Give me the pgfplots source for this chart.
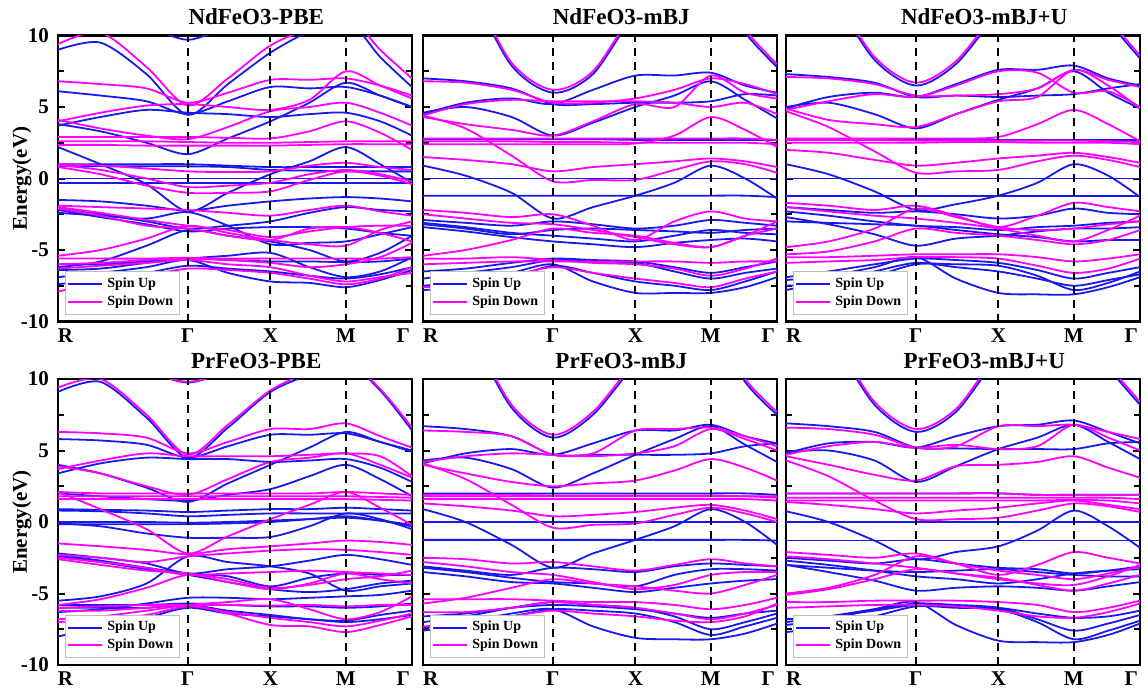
\documentclass[border=0pt]{standalone}
\usepackage{fontspec}
\setmainfont{Liberation Serif}
\usepackage{pgfplots}
\usepackage{pgfplotstable}
\pgfplotsset{compat=1.18}
\definecolor{upc}{RGB}{25,25,235}
\definecolor{dnc}{RGB}{255,0,255}

% ---------------- NdFeO3-PBE ----------------
\pgfplotstableread{
b   k0 k1 k2 k3 k4 k5 k6 k7 k8 k9
x   0 0.12 0.25 0.367 0.48 0.6 0.71 0.813 0.91 1
u1  9.0 9.5 7.3 4.45 6.6 8.8 10.3 11.2 8.5 6.4
u2  11 11 10.6 9.7 10.6 11 11 11 11 11
u3  6.1 5.8 5.4 4.5 5.4 6.4 6.3 6.4 5.8 5.0
u4  3.7 4.3 4.8 4.6 4.5 4.3 4.5 4.6 4.0 3.0
u5  3.8 3.3 2.5 1.7 2.8 4.0 5.3 6.7 5.8 5.0
u6  2.2 1.0 -0.4 -2.3 -1.0 0.3 1.2 2.2 1.0 -0.3
u7  1.0 1.0 1.0 1.0 0.9 0.8 0.8 0.8 0.8 0.8
u8  0.85 0.85 0.85 0.85 0.8 0.6 0.55 0.5 0.5 0.5
u9  0 0 0 0 0 0 0 0 0 0
u10 -0.3 -0.3 -0.3 -0.3 -0.3 -0.3 -0.3 -0.3 -0.3 -0.3
u11 -1.5 -1.6 -1.9 -2.25 -1.9 -1.6 -1.4 -1.3 -1.4 -1.6
u12 -2.1 -2.5 -3.0 -3.5 -3.3 -3.0 -2.4 -2.0 -2.2 -2.3
u13 -2.2 -2.7 -3.2 -3.7 -3.5 -3.4 -3.4 -3.5 -3.8 -4.0
u14 -2.4 -2.6 -2.8 -2.35 -3.3 -4.6 -4.5 -4.4 -3.9 -3.4
u15 -6.2 -5.8 -4.7 -3.6 -4.0 -4.4 -5.0 -5.8 -5.2 -4.0
u16 -6.0 -6.0 -5.8 -5.6 -5.7 -5.8 -5.8 -5.85 -5.8 -5.6
u17 -6.9 -6.6 -6.2 -5.7 -6.6 -7.2 -7.3 -7.6 -7.1 -6.4
u18 -7.4 -7.0 -6.6 -6.1 -6.3 -6.5 -6.8 -7.0 -6.7 -6.2
u19 -6.4 -6.3 -5.9 -5.6 -5.4 -5.2 -6.2 -6.9 -6.5 -5.5
d1  9.4 10.2 7.8 5.1 7.0 9.3 10.5 11.5 9.0 7.0
d2  6.8 6.6 6.3 5.3 6.0 6.9 6.9 7.0 6.5 5.8
d3  4.0 4.6 5.1 5.2 5.0 4.8 5.5 7.5 6.5 5.6
d4  4.1 3.5 3.0 2.75 3.6 4.7 5.0 5.3 4.6 3.7
d5  2.9 2.9 2.9 2.9 2.85 2.8 3.3 4.0 3.2 2.0
d6  2.6 2.6 2.6 2.55 2.5 2.5 2.55 2.6 2.6 2.6
d7  2.35 2.35 2.3 2.3 2.3 2.3 2.35 2.4 2.4 2.4
d8  1.0 0.9 0.7 0.5 0.45 0.5 0.9 1.1 0.8 0.6
d9  0.8 0.3 -0.5 -1.0 -1.0 -0.9 -0.1 0.5 0.2 -0.4
d10 -1.9 -2.0 -2.1 -2.2 -2.4 -2.6 -2.2 -1.9 -2.3 -2.6
d11 -2.0 -2.4 -2.9 -3.3 -3.6 -4.1 -3.7 -3.4 -3.3 -3.3
d12 -5.4 -5.0 -4.2 -3.3 -3.8 -4.3 -4.6 -4.7 -3.6 -3.0
d13 -2.1 -2.6 -3.3 -3.5 -4.0 -4.3 -3.5 -3.4 -3.8 -4.4
d14 -5.6 -5.6 -5.6 -5.55 -5.6 -5.6 -5.6 -5.6 -5.6 -5.5
d15 -6.0 -5.9 -5.7 -5.6 -5.7 -5.9 -6.2 -6.0 -5.5 -4.5
d16 -6.3 -6.1 -5.9 -5.7 -6.0 -6.2 -6.8 -7.2 -6.9 -6.6
d17 -7.9 -7.3 -6.8 -6.3 -6.4 -6.6 -7.0 -7.4 -7.0 -6.2
d18 0.95 0.6 0.0 -0.6 -0.5 -0.3 0.3 0.6 0.3 -0.2
}\rawNdPBE
\pgfplotstabletranspose[colnames from=b]{\NdPBE}{\rawNdPBE}

% ---------------- NdFeO3-mBJ ----------------
\pgfplotstableread{
b   k0 k1 k2 k3 k4 k5 k6 k7 k8 k9
x   0 0.12 0.25 0.367 0.48 0.6 0.71 0.813 0.91 1
u1  15 13.5 7.9 6.0 7.3 11.5 13 14 10.2 7.8
u2  7.0 6.8 6.3 5.2 5.2 5.3 5.3 5.4 5.9 5.8
u3  4.5 5.3 5.6 5.2 6.2 7.2 7.2 7.4 6.5 6.0
u4  4.6 5.0 4.3 3.0 3.9 5.0 5.8 6.8 5.5 4.2
u5  2.75 2.75 2.75 2.75 2.75 2.7 2.7 2.7 2.7 2.7
u6  0.9 0.2 -1.0 -2.8 -2.0 -1.2 -0.3 0.9 0.0 -1.4
u7  0 0 0 0 0 0 0 0 0 0
u8  -1.2 -1.2 -1.2 -1.2 -1.2 -1.2 -1.2 -1.2 -1.2 -1.3
u9  -2.9 -3.1 -3.3 -3.0 -3.2 -3.5 -3.3 -2.9 -3.1 -3.3
u10 -3.1 -3.4 -3.8 -4.0 -4.2 -4.4 -4.0 -3.6 -3.8 -3.9
u11 -3.4 -3.7 -4.1 -4.4 -4.6 -4.8 -4.5 -4.3 -4.2 -4.4
u12 -3.2 -3.5 -3.9 -3.6 -3.5 -3.6 -3.7 -3.8 -3.6 -3.5
u13 -7.5 -7.2 -6.6 -6.0 -7.2 -8.0 -8.0 -8.0 -7.6 -6.9
u14 -7.0 -6.6 -6.2 -5.7 -5.8 -5.9 -6.5 -7.0 -6.6 -6.3
u15 -6.5 -6.3 -5.9 -5.6 -5.7 -5.8 -6.2 -6.6 -6.2 -5.8
u16 -7.8 -7.6 -7.0 -6.1 -6.6 -7.2 -7.5 -7.8 -7.2 -6.5
d1  15 13.7 8.1 6.2 7.5 11.7 13 14 10.4 8.0
d2  6.8 6.7 6.2 5.3 5.3 5.6 6.2 7.0 6.6 5.9
d3  4.4 5.2 5.5 5.4 5.4 5.4 5.3 5.0 5.3 4.5
d4  4.3 3.8 3.4 3.0 4.0 5.2 5.0 7.2 6.0 5.6
d5  1.5 1.3 1.0 0.5 0.8 1.0 1.2 1.4 1.2 0.8
d6  4.4 3.5 1.6 -0.2 -0.1 -0.1 0.6 1.2 1.0 0.4
d7  2.8 2.8 2.8 2.8 2.8 2.8 2.8 2.8 2.8 2.7
d8  2.6 2.6 2.6 2.55 2.55 2.5 2.5 2.5 2.5 2.4
d9  2.4 2.4 2.4 2.4 2.4 2.45 3.0 4.3 3.4 2.2
d10 -2.2 -2.4 -2.7 -2.5 -3.3 -4.3 -3.0 -2.3 -2.8 -3.0
d11 -2.5 -2.8 -3.1 -3.2 -3.6 -4.1 -4.6 -4.8 -4.0 -3.0
d12 -5.4 -5.0 -4.3 -3.5 -3.8 -4.0 -4.5 -4.8 -4.0 -3.5
d13 -6.0 -5.9 -5.8 -5.8 -5.8 -5.8 -5.8 -5.9 -5.8 -5.8
d14 -5.6 -5.6 -5.5 -5.7 -5.9 -6.0 -6.3 -6.8 -6.3 -5.6
d15 -7.6 -7.4 -6.8 -6.2 -6.6 -7.0 -7.3 -7.6 -7.0 -6.5
}\rawNdmBJ
\pgfplotstabletranspose[colnames from=b]{\NdmBJ}{\rawNdmBJ}

% ---------------- NdFeO3-mBJ+U ----------------
\pgfplotstableread{
b   k0 k1 k2 k3 k4 k5 k6 k7 k8 k9
x   0 0.12 0.25 0.367 0.48 0.6 0.71 0.813 0.91 1
u1  15 13 8.3 6.5 8.0 11.5 13 14 11.0 8.4
u2  7.3 7.1 6.7 5.7 5.8 5.7 5.8 5.9 6.3 6.6
u3  4.9 5.7 6.0 5.7 6.6 7.6 7.6 7.9 7.0 6.5
u4  5.0 5.3 4.5 3.5 4.5 5.5 6.3 7.5 6.0 4.9
u5  2.7 2.7 2.7 2.7 2.7 2.7 2.7 2.7 2.7 2.7
u6  1.0 0.3 -0.9 -2.2 -1.8 -1.2 -0.3 1.0 0.2 -1.3
u7  0 0 0 0 0 0 0 0 0 0
u8  -1.2 -1.2 -1.2 -1.2 -1.2 -1.2 -1.2 -1.2 -1.2 -1.2
u9  -2.0 -2.2 -2.4 -2.3 -2.5 -2.8 -2.6 -2.1 -2.4 -2.5
u10 -2.3 -2.6 -3.0 -3.3 -3.4 -3.6 -3.4 -3.3 -3.1 -3.0
u11 -2.7 -3.2 -3.9 -4.7 -4.2 -4.0 -3.7 -3.5 -3.5 -3.4
u12 -3.0 -3.1 -3.2 -3.3 -3.6 -3.9 -4.1 -4.4 -4.3 -4.3
u13 -7.1 -6.8 -6.2 -5.5 -7.0 -8.0 -8.1 -8.1 -7.6 -6.9
u14 -6.9 -6.5 -6.0 -5.6 -5.7 -5.9 -6.4 -7.0 -6.6 -6.2
u15 -7.8 -7.2 -6.5 -5.9 -6.2 -6.5 -7.0 -7.5 -7.1 -6.7
u16 -7.5 -7.3 -6.8 -6.0 -6.0 -6.1 -6.8 -7.8 -7.3 -6.5
d1  15 13.2 8.5 6.7 8.2 11.7 13 14 11.2 8.6
d2  7.1 7.0 6.6 5.8 5.8 5.9 6.3 7.6 6.9 6.4
d3  4.8 5.4 5.9 5.7 6.5 7.5 7.4 6.0 6.1 5.0
d4  4.9 4.1 3.8 3.6 4.5 5.4 5.7 7.6 6.5 4.9
d5  2.8 2.8 2.8 2.8 2.8 2.9 3.8 4.8 3.8 2.6
d6  2.7 2.7 2.7 2.65 2.65 2.65 2.65 2.65 2.6 2.55
d7  2.5 2.5 2.5 2.5 2.55 2.55 2.5 2.5 2.5 2.4
d8  2.0 1.8 1.3 0.9 1.1 1.4 1.6 1.8 1.5 1.1
d9  4.7 3.6 1.9 0.4 0.5 0.6 1.2 1.6 1.3 0.8
d10 -1.7 -1.9 -2.2 -1.9 -2.6 -3.4 -2.6 -1.7 -2.0 -2.3
d11 -2.0 -2.3 -2.6 -2.8 -3.1 -3.5 -4.0 -4.4 -3.6 -2.6
d12 -4.8 -4.4 -3.5 -2.1 -2.7 -3.4 -3.6 -3.5 -3.2 -3.0
d13 -5.3 -5.1 -4.4 -3.5 -3.8 -4.0 -4.3 -4.6 -4.3 -3.6
d14 -5.5 -5.5 -5.4 -5.3 -5.3 -5.3 -5.5 -5.8 -5.6 -5.3
d15 -5.9 -5.8 -5.7 -5.5 -5.5 -5.6 -6.1 -6.6 -6.3 -5.6
}\rawNdmBJU
\pgfplotstabletranspose[colnames from=b]{\NdmBJU}{\rawNdmBJU}

% ---------------- PrFeO3-PBE ----------------
\pgfplotstableread{
b   k0 k1 k2 k3 k4 k5 k6 k7 k8 k9
x   0 0.12 0.25 0.367 0.48 0.6 0.71 0.813 0.91 1
u1  9.1 9.8 7.3 4.5 6.6 9.1 10.3 11.2 9.2 6.4
u2  11 11 10.5 9.75 10.5 11 11 11 11 11
u3  5.8 5.7 5.4 4.5 5.3 6.1 6.1 6.2 5.6 4.9
u4  3.4 4.1 4.5 4.4 4.4 4.2 4.3 4.4 3.8 2.8
u5  4.0 3.4 2.4 1.4 2.7 4.0 5.2 6.3 5.6 5.0
u6  2.0 1.8 1.6 1.5 1.9 2.3 3.2 4.0 3.0 1.8
u7  0.9 0.85 0.8 0.7 0.8 0.9 0.9 1.0 0.9 0.8
u8  0.8 0.75 0.6 0.4 0.5 0.6 0.6 0.6 0.6 0.6
u9  0 0 0 -0.05 0 0.1 0.2 0.3 0.1 -0.2
u10 -0.1 -0.3 -0.8 -1.1 -1.1 -1.05 -0.3 0.6 0.2 -0.5
u11 -0.15 -0.15 -0.15 -0.15 -0.1 0.0 0.2 0.4 0.1 -0.3
u12 -2.2 -2.5 -2.9 -3.6 -3.3 -3.1 -2.7 -2.3 -2.6 -3.0
u13 -2.3 -2.7 -3.2 -3.6 -3.8 -4.5 -3.9 -3.6 -3.7 -3.7
u14 -5.5 -5.2 -4.3 -2.4 -2.8 -3.1 -3.6 -4.8 -4.5 -4.3
u15 -5.8 -5.8 -5.8 -5.7 -5.8 -5.9 -5.9 -6.0 -5.9 -5.7
u16 -6.0 -6.0 -6.0 -5.8 -6.2 -6.5 -6.8 -6.9 -6.5 -6.2
u17 -8.0 -7.4 -6.7 -6.0 -6.4 -6.6 -6.8 -7.0 -6.8 -6.5
u18 -6.3 -6.1 -5.7 -5.3 -5.3 -5.4 -5.3 -5.2 -5.1 -4.8
u19 -2.4 -2.8 -3.3 -3.7 -4.2 -4.7 -4.9 -4.7 -4.3 -4.1
d1  9.4 10.0 7.5 4.7 6.8 9.2 10.5 11.3 9.3 6.6
d2  11 11 10.5 9.8 10.5 11 11 11 11 11
d3  6.3 6.2 5.9 4.8 5.6 6.5 6.5 6.9 6.0 5.2
d4  3.7 4.3 4.8 4.6 4.6 4.6 4.7 4.8 4.6 3.2
d5  3.9 3.4 2.5 1.9 3.0 4.2 4.5 4.8 4.0 3.1
d6  2.1 2.0 2.0 2.0 2.0 2.0 2.0 2.1 2.0 1.9
d7  1.8 1.8 1.8 1.8 1.8 1.8 1.8 1.8 1.75 1.7
d8  1.6 1.6 1.6 1.6 1.6 1.6 1.6 1.6 1.55 1.5
d9  2.1 0.9 -0.5 -2.2 -1.0 0.2 1.2 2.1 1.0 -0.2
d10 -1.5 -1.7 -1.95 -2.25 -1.9 -1.7 -1.5 -1.3 -1.4 -1.6
d11 -2.3 -2.5 -2.8 -2.4 -2.2 -2.0 -1.9 -1.95 -2.1 -2.3
d12 -2.5 -2.8 -3.2 -3.7 -3.6 -3.5 -3.4 -3.5 -3.6 -3.7
d13 -5.8 -5.4 -4.6 -3.7 -4.2 -4.7 -4.3 -3.6 -4.0 -4.3
d14 -6.0 -5.9 -5.8 -5.8 -5.8 -5.85 -5.8 -5.9 -5.8 -5.8
d15 -6.2 -6.2 -6.0 -5.8 -6.4 -7.2 -7.3 -7.7 -7.2 -6.6
d16 -7.0 -6.8 -6.5 -5.9 -6.3 -6.7 -7.0 -7.3 -6.9 -6.4
d17 -6.8 -6.6 -6.2 -5.8 -5.6 -5.4 -6.1 -6.8 -6.3 -5.2
d18 -2.6 -3.0 -3.4 -3.6 -4.0 -4.6 -4.4 -4.0 -3.8 -3.4
}\rawPrPBE
\pgfplotstabletranspose[colnames from=b]{\PrPBE}{\rawPrPBE}

% ---------------- PrFeO3-mBJ ----------------
\pgfplotstableread{
b   k0 k1 k2 k3 k4 k5 k6 k7 k8 k9
x   0 0.12 0.25 0.367 0.48 0.6 0.71 0.813 0.91 1
u1  15 13.5 8.0 5.9 7.5 11 13 14 9.8 7.5
u2  6.7 6.5 6.0 4.7 4.7 4.7 4.7 4.8 5.3 5.5
u3  4.1 4.8 5.1 4.7 5.5 6.4 6.4 6.8 6.0 5.5
u4  4.3 4.5 3.7 2.4 3.4 4.7 5.8 6.7 5.4 4.2
u5  2.0 2.0 2.0 2.0 2.0 2.0 2.0 2.0 2.0 1.9
u6  0.9 0.0 -1.6 -3.2 -2.2 -1.25 -0.3 0.9 0.0 -1.6
u7  0 0 0 0 0 0 0 0 0 0
u8  -1.25 -1.25 -1.25 -1.25 -1.25 -1.25 -1.25 -1.25 -1.25 -1.3
u9  -3.1 -3.4 -3.7 -3.2 -3.3 -3.5 -3.1 -2.9 -3.0 -3.1
u10 -3.2 -3.5 -3.9 -4.2 -4.3 -4.5 -3.7 -3.3 -3.3 -3.4
u11 -3.5 -3.8 -4.2 -4.3 -4.6 -4.9 -4.6 -4.3 -4.1 -4.0
u12 -7.4 -7.0 -6.4 -6.1 -7.3 -8.1 -8.2 -8.2 -7.8 -7.1
u13 -7.0 -6.6 -6.0 -5.6 -5.8 -6.0 -6.6 -7.5 -7.0 -6.4
u14 -7.6 -7.2 -6.6 -6.1 -6.2 -6.4 -7.0 -7.9 -7.3 -6.7
u15 -6.6 -6.4 -6.0 -5.8 -5.9 -6.1 -6.4 -6.7 -6.4 -6.2
d1  15 13.7 8.2 6.1 7.7 11.2 13 14 10.0 7.7
d2  6.4 6.3 6.0 4.7 4.8 6.4 6.5 6.6 6.0 5.3
d3  4.2 4.6 4.8 4.7 4.6 4.8 5.3 6.5 5.8 5.0
d4  4.0 3.4 2.8 2.5 2.7 2.9 3.6 4.4 3.8 2.9
d5  1.8 1.8 1.8 1.8 1.8 1.8 1.8 1.8 1.8 1.7
d6  1.6 1.6 1.6 1.6 1.6 1.6 1.6 1.6 1.6 1.5
d7  1.9 1.9 1.9 1.85 1.85 1.85 1.85 1.85 1.8 1.8
d8  1.3 1.1 0.8 0.4 0.5 0.7 1.0 1.2 0.8 0.2
d9  4.1 3.0 1.2 -0.4 -0.2 -0.1 0.5 1.0 0.6 0.0
d10 -2.5 -2.6 -2.9 -2.8 -3.1 -3.4 -3.0 -2.6 -2.9 -3.1
d11 -2.8 -3.1 -3.5 -3.7 -4.2 -4.7 -4.4 -3.7 -3.5 -3.5
d12 -5.7 -5.3 -4.6 -4.0 -4.3 -4.5 -4.8 -5.0 -4.4 -3.7
d13 -5.4 -5.4 -5.4 -5.5 -5.6 -5.6 -5.8 -6.1 -5.8 -5.3
d14 -6.3 -6.3 -6.0 -5.6 -5.8 -6.0 -6.4 -6.8 -6.4 -5.8
d15 -7.3 -7.1 -6.6 -6.2 -6.4 -6.6 -6.9 -7.0 -6.6 -5.7
}\rawPrmBJ
\pgfplotstabletranspose[colnames from=b]{\PrmBJ}{\rawPrmBJ}

% ---------------- PrFeO3-mBJ+U ----------------
\pgfplotstableread{
b   k0 k1 k2 k3 k4 k5 k6 k7 k8 k9
x   0 0.12 0.25 0.367 0.48 0.6 0.71 0.813 0.91 1
u1  15 13 8.2 6.3 7.7 11.5 13 14 10.8 8.2
u2  6.9 6.7 6.3 5.2 5.15 5.1 5.1 5.1 5.5 5.6
u3  4.8 5.5 5.6 5.2 6.0 6.7 6.8 7.1 6.3 5.5
u4  4.9 5.0 4.3 2.8 3.9 5.1 5.9 6.8 5.6 4.4
u5  2.0 2.0 2.0 2.0 2.0 2.0 1.9 1.9 1.9 1.9
u6  0.75 0.0 -1.3 -2.6 -2.1 -1.7 -0.6 0.8 -0.3 -1.8
u7  0 0 0 0 0 0 0 0 0 0
u8  -1.3 -1.3 -1.3 -1.3 -1.3 -1.3 -1.3 -1.3 -1.3 -1.3
u9  -2.5 -2.7 -2.9 -2.6 -2.9 -3.2 -3.3 -3.6 -3.4 -3.1
u10 -2.7 -3.0 -3.4 -3.8 -4.0 -4.3 -4.0 -3.6 -3.4 -3.3
u11 -3.0 -3.5 -4.1 -4.8 -4.6 -4.5 -4.6 -4.8 -4.5 -4.2
u12 -3.0 -3.2 -3.4 -3.5 -3.4 -3.3 -3.5 -3.7 -3.8 -3.8
u13 -7.2 -6.8 -6.1 -5.6 -7.2 -8.3 -8.4 -8.4 -7.9 -7.1
u14 -7.0 -6.6 -6.1 -5.7 -5.8 -6.0 -6.8 -7.6 -7.1 -6.5
u15 -7.7 -7.3 -6.6 -5.9 -6.0 -6.1 -7.0 -8.2 -7.6 -6.9
u16 -6.8 -6.6 -6.2 -5.8 -5.9 -6.0 -6.4 -6.7 -6.6 -6.2
d1  15 13.2 8.4 6.5 7.9 11.7 13 14 11.0 8.4
d2  6.6 6.5 6.1 5.2 5.3 6.7 6.7 6.8 6.3 5.8
d3  4.7 5.3 5.6 5.2 5.4 5.1 5.3 6.8 5.9 5.0
d4  4.6 4.0 3.3 2.9 3.9 4.0 4.2 4.6 3.8 3.1
d5  2.0 2.0 2.0 2.0 2.0 2.0 1.9 1.9 1.9 1.9
d6  1.7 1.7 1.7 1.7 1.7 1.7 1.7 1.7 1.7 1.6
d7  1.5 1.5 1.5 1.5 1.5 1.5 1.5 1.55 1.5 1.3
d8  1.4 1.2 0.9 0.6 0.8 1.0 1.3 1.5 1.2 0.9
d9  4.3 3.2 1.5 0.2 0.2 0.3 0.8 1.3 1.1 0.7
d10 -2.1 -2.3 -2.5 -2.2 -2.9 -3.7 -3.0 -2.1 -2.5 -2.9
d11 -2.4 -2.6 -2.9 -3.2 -3.6 -4.0 -4.3 -4.4 -3.8 -3.0
d12 -5.0 -4.6 -3.7 -2.4 -2.9 -3.4 -3.7 -4.0 -3.6 -3.1
d13 -5.1 -4.7 -4.0 -3.3 -3.6 -3.9 -4.4 -4.8 -4.3 -3.7
d14 -5.6 -5.6 -5.5 -5.5 -5.5 -5.6 -5.8 -6.3 -6.0 -5.5
d15 -6.0 -5.9 -5.8 -5.8 -5.9 -6.2 -6.6 -6.7 -6.3 -5.7
}\rawPrmBJU
\pgfplotstabletranspose[colnames from=b]{\PrmBJU}{\rawPrmBJU}

\pgfplotsset{
  bandaxis/.style={
    scale only axis, width=177pt, height=143pt,
    anchor=south west,
    xmin=0, xmax=1, ymin=-10, ymax=10,
    axis line style={line width=1.4pt},
    xtick={0,0.367,0.6,0.813,1},
    xticklabels={\rlap{R},Γ,X,M,\llap{Γ\hspace{1pt}}},
    ytick={-10,-5,0,5,10},
    minor ytick={-7.5,-2.5,2.5,7.5},
    tick align=inside,
    xtick pos=left,
    ytick pos=both,
    major tick length=3.5pt, minor tick length=3pt,
    tick style={black, line width=1pt},
    minor tick style={black, line width=1pt},
    tick label style={font=\bfseries\fontsize{10.5}{12}\selectfont},
    yticklabel style={xshift=-1pt},
    title style={at={(0.56,1)}, anchor=base, yshift=-0.5pt, font=\bfseries\fontsize{11.5}{13}\selectfont},
    ylabel style={at={(axis description cs:-0.102,0.5)}, anchor=center, font=\bfseries\fontsize{10.5}{12}\selectfont},
    legend style={at={(0,0)}, anchor=south west, xshift=3.5pt, yshift=3.5pt,
      draw=black!25, fill=white, inner sep=1pt, row sep=-1.5pt,
      font=\bfseries\fontsize{7}{8}\selectfont},
    legend cell align=left,
    legend image code/.code={\draw[#1] (0pt,0pt) -- (17pt,0pt);},
  },
  up/.style={color=upc, line width=0.9pt, smooth, tension=0.5, no marks, forget plot},
  dn/.style={color=dnc, line width=0.9pt, smooth, tension=0.5, no marks, forget plot},
}

\newcommand\bands[3]{%
  \pgfplotsinvokeforeach{1,...,#2}{\addplot[up] table[x=x,y=u##1]{#1};}%
  \pgfplotsinvokeforeach{1,...,#3}{\addplot[dn] table[x=x,y=d##1]{#1};}%
  \draw[black, line width=1pt, dash pattern=on 4pt off 3pt] (axis cs:0.367,-10) -- (axis cs:0.367,10);
  \draw[black, line width=1pt, dash pattern=on 4pt off 3pt] (axis cs:0.6,-10) -- (axis cs:0.6,10);
  \draw[black, line width=1pt, dash pattern=on 4pt off 3pt] (axis cs:0.813,-10) -- (axis cs:0.813,10);
  \addlegendimage{upc, line width=1pt}\addlegendentry{Spin Up}
  \addlegendimage{dnc, line width=1pt}\addlegendentry{Spin Down}
}

\begin{document}
\begin{tikzpicture}
\useasboundingbox (0,0) rectangle (574pt,346.5pt);

\begin{axis}[bandaxis, at={(29pt,185.75pt)}, title={NdFeO3-PBE}, ylabel={Energy(eV)}, yticklabels={-10,-5,0,5,10}]
\bands{\NdPBE}{19}{18}
\end{axis}

\begin{axis}[bandaxis, at={(211.5pt,185.75pt)}, title={NdFeO3-mBJ}, yticklabels={}]
\bands{\NdmBJ}{16}{15}
\end{axis}

\begin{axis}[bandaxis, at={(393pt,185.75pt)}, title={NdFeO3-mBJ+U}, yticklabels={}]
\bands{\NdmBJU}{16}{15}
\end{axis}

\begin{axis}[bandaxis, at={(29pt,14pt)}, title={PrFeO3-PBE}, ylabel={Energy(eV)}, yticklabels={-10,-5,0,5,10}]
\bands{\PrPBE}{19}{18}
\end{axis}

\begin{axis}[bandaxis, at={(211.5pt,14pt)}, title={PrFeO3-mBJ}, yticklabels={}]
\bands{\PrmBJ}{15}{15}
\end{axis}

\begin{axis}[bandaxis, at={(393pt,14pt)}, title={PrFeO3-mBJ+U}, yticklabels={}]
\bands{\PrmBJU}{16}{15}
\end{axis}
\end{tikzpicture}
\end{document}
